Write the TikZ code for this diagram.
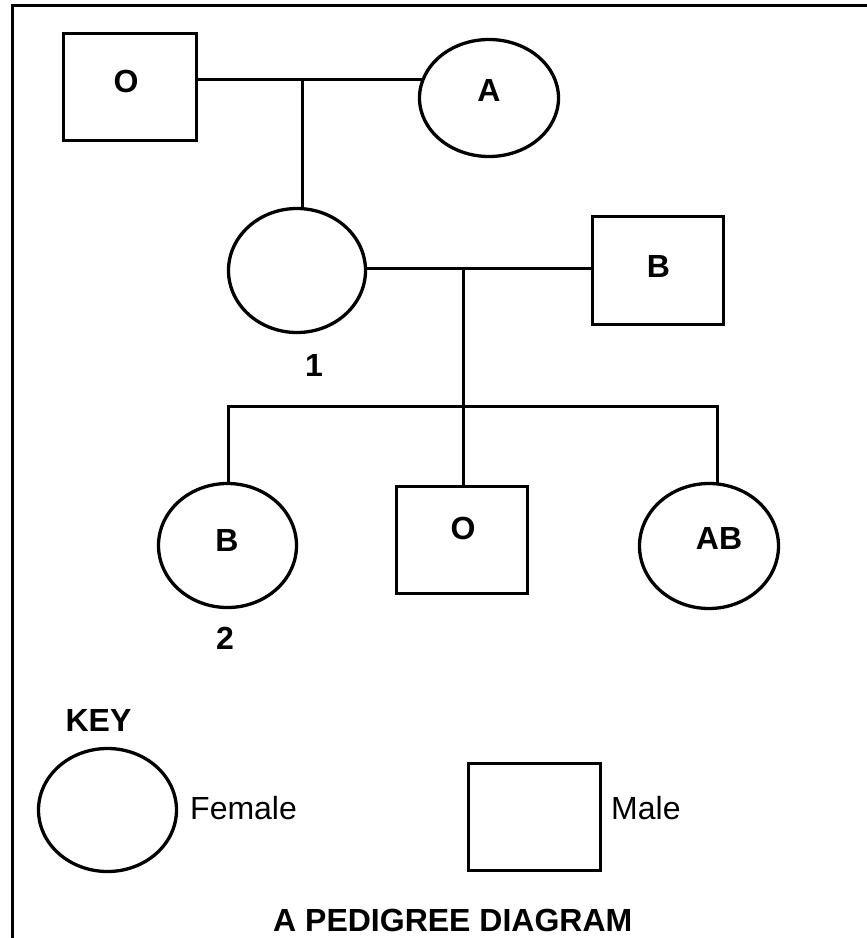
\documentclass[tikz,border=0pt]{standalone}
\usepackage{fontspec}
\setmainfont{Liberation Sans}
\usetikzlibrary{shapes.geometric,backgrounds}
\begin{document}
\begin{tikzpicture}[x=1pt,y=-1pt,
  person/.style={draw=black,line width=3.3pt,fill=white,inner sep=0pt},
  male/.style={person,rectangle},
  female/.style={person,ellipse},
  link/.style={line width=3pt,line join=miter},
  tag/.style={font=\fontsize{32}{38}\selectfont\bfseries,inner sep=0pt},
  keytext/.style={font=\fontsize{32}{38}\selectfont,inner sep=0pt,anchor=west}]
\useasboundingbox (0,0) rectangle (867,938);

% outer frame
\draw[line width=3.5pt] (12.5,945) -- (12.5,5.5) -- (875,5.5);

% people
\node[male,minimum width=133pt,minimum height=107pt] (gf) at (130,87) {};
\node[female,minimum width=139pt,minimum height=117pt] (gm) at (489,98) {};
\node[female,minimum width=137pt,minimum height=124pt] (mo) at (297,270.5) {};
\node[male,minimum width=131pt,minimum height=108pt] (fa) at (658,270.5) {};
\node[female,minimum width=138pt,minimum height=124pt] (d1) at (227.5,545.5) {};
\node[male,minimum width=131pt,minimum height=107pt] (s1) at (462,540) {};
\node[female,minimum width=139pt,minimum height=125pt] (d2) at (709,546) {};

% key symbols
\node[female,minimum width=138pt,minimum height=123pt] (kf) at (107.5,810) {};
\node[male,minimum width=132pt,minimum height=107pt] (km) at (534.5,817) {};

% junction points
\coordinate (u1) at (302,79);
\coordinate (u2) at (463,268);
\coordinate (sib) at (463,406);
\coordinate (sibL) at (228,406);
\coordinate (sibR) at (717,406);

\begin{scope}[on background layer]
  \draw[link] (u1 -| gf.center) -- (u1 -| gm.center);
  \draw[link] (u1) -- (u1 |- mo.center);
  \draw[link] (u2 -| mo.center) -- (u2 -| fa.center);
  \draw[link] (u2) -- (sib);
  \draw[link] (sibL |- d1.center) -- (sibL) -- (sibR) -- (sibR |- d2.center);
  \draw[link] (sib) -- (sib |- s1.center);
\end{scope}

% blood groups and numbers
\node[tag] (tgf) at (126,81.5) {O};
\node[tag] (tgm) at (489,90) {A};
\node[tag] (tfa) at (658.5,266) {B};
\node[tag] (n1) at (314,365) {1};
\node[tag] (td1) at (227,540) {B};
\node[tag] (ts1) at (463,528) {O};
\node[tag] (td2) at (719,538.5) {AB};
\node[tag] (n2) at (225,638) {2};

% key
\node[tag] (key) at (98.5,720) {KEY};
\node[keytext] (lf) at (190,808) {Female};
\node[keytext] (lm) at (611,808) {Male};

% title
\node[tag,anchor=west] (title) at (273,920) {A PEDIGREE DIAGRAM};
\end{tikzpicture}
\end{document}
